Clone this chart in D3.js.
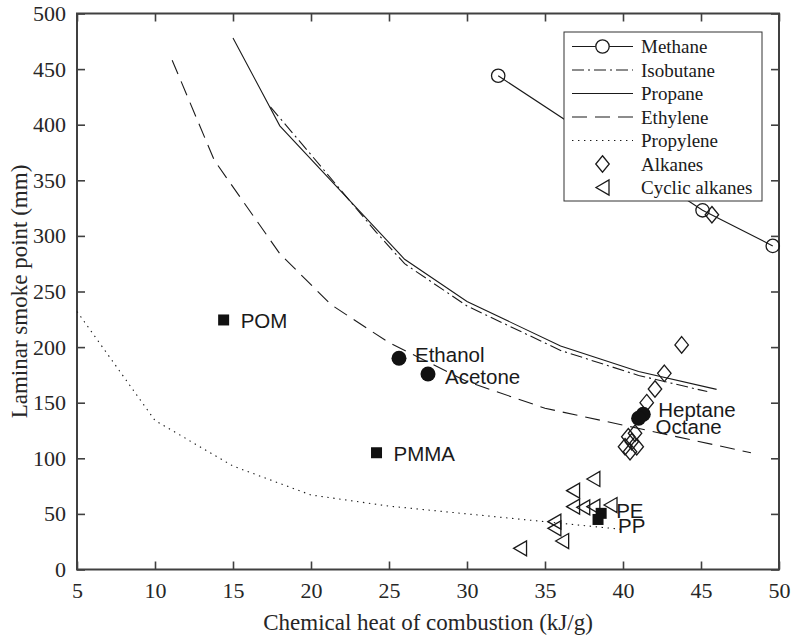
<!DOCTYPE html>
<html>
  <head>
    <title>Laminar smoke point</title>
    <script src="https://cdn.jsdelivr.net/npm/d3@7/dist/d3.min.js"></script>
    <style>
      body { margin: 0; background: #fff; }
    </style>
  </head>
  <body>
    <svg width="791" height="635" id="mainsvg"></svg>
    <script>
        // curves (chemical heat of combustion kJ/g vs laminar smoke point mm)
        const methaneX = [32.0, 45.1, 49.6];
        const methaneY = [444, 323, 291];
        const isobutaneX = [17.4, 20, 24.2, 26, 30, 36, 41, 45.4];
        const isobutaneY = [416, 373, 303, 275, 237, 197, 174.5, 160];
        const propaneX = [15, 18, 26, 30, 36, 41, 46];
        const propaneY = [478, 399, 279, 241, 201, 178, 162];
        const ethyleneX = [11.1, 13.8, 18, 21.3, 25, 30, 35, 48.2];
        const ethyleneY = [458, 368, 284, 238, 204, 169, 145, 105];
        const propyleneX = [5, 10, 15, 20, 25, 30, 35, 40];
        const propyleneY = [232, 134, 93, 67, 57, 50, 43, 36];

        // open markers
        const alkanesX = [45.7, 43.76, 42.65, 42.05, 41.52, 40.77, 40.34, 40.56, 40.13, 40.88, 40.45];
        const alkanesY = [319, 202, 176.4, 162.3, 150, 122.5, 119.4, 114.9, 110.4, 110.4, 105.9];
        const cyclicX = [38.1, 36.8, 36.8, 37.45, 38.1, 39.2, 35.6, 35.6, 36.1, 33.4];
        const cyclicY = [81.4, 70.9, 56.5, 55.9, 56.5, 58, 43, 37, 25.6, 19];

        // labelled fuels
        const circleNames = ['Ethanol', 'Acetone', 'Heptane', 'Octane'];
        const circleX = [25.64, 27.5, 41.3, 41.0];
        const circleY = [190, 175.8, 139.6, 136];
        const squareNames = ['POM', 'PMMA', 'PE', 'PP'];
        const squareX = [14.4, 24.2, 38.6, 38.4];
        const squareY = [224.4, 105, 50.5, 45];

        const xTicks = [5, 10, 15, 20, 25, 30, 35, 40, 45, 50];
        const yTicks = [0, 50, 100, 150, 200, 250, 300, 350, 400, 450, 500];
        const legendNames = ['Methane', 'Isobutane', 'Propane', 'Ethylene', 'Propylene', 'Alkanes', 'Cyclic alkanes'];

        // label offsets in pixels from the marker
        const labelOffset = {
          Ethanol: [16, -4], Acetone: [17, 2], Heptane: [15, -5], Octane: [17, 8],
          POM: [17, 1], PMMA: [17, 1], PE: [15, -3], PP: [20, 6]
        };

        const svg = d3.select('#mainsvg');
        const margin = {top: 13.5, left: 77, right: 12, bottom: 65.5};
        const innerWidth = 791 - margin.left - margin.right;
        const innerHeight = 635 - margin.top - margin.bottom;
        const g = svg.append('g').attr('transform', `translate(${margin.left}, ${margin.top})`);

        const x = d3.scaleLinear().domain([5, 50]).range([0, innerWidth]);
        const y = d3.scaleLinear().domain([0, 500]).range([innerHeight, 0]);

        const axisColor = '#404040';
        const ink = '#1a1a1a';
        const serif = '"Liberation Serif", "Times New Roman", serif';
        const sans = '"Liberation Sans", Arial, sans-serif';

        const styleAxis = (sel, labels) => {
          sel.select('.domain').remove();
          sel.selectAll('line').attr('stroke', axisColor).attr('stroke-width', 1.6);
          sel.selectAll('text').attr('font-family', serif).attr('font-size', 22).attr('fill', '#262626');
          if (!labels) sel.selectAll('text').remove();
        };

        g.append('g').attr('transform', `translate(0, ${innerHeight})`)
          .call(d3.axisBottom(x).tickValues(xTicks).tickSize(-8).tickPadding(13))
          .call(s => styleAxis(s, true));
        g.append('g')
          .call(d3.axisTop(x).tickValues(xTicks).tickSize(-8))
          .call(s => styleAxis(s, false));
        g.append('g')
          .call(d3.axisLeft(y).tickValues(yTicks).tickSize(-8).tickPadding(11))
          .call(s => styleAxis(s, true));
        g.append('g').attr('transform', `translate(${innerWidth}, 0)`)
          .call(d3.axisRight(y).tickValues(yTicks).tickSize(-8))
          .call(s => styleAxis(s, false));

        g.append('rect').attr('width', innerWidth).attr('height', innerHeight)
          .attr('fill', 'none').attr('stroke', axisColor).attr('stroke-width', 2);

        // axis titles
        svg.append('text').attr('x', margin.left + innerWidth / 2).attr('y', 622)
          .attr('text-anchor', 'middle').attr('dominant-baseline', 'central')
          .attr('font-family', serif).attr('font-size', 23).attr('fill', '#262626')
          .text('Chemical heat of combustion (kJ/g)');
        svg.append('text')
          .attr('transform', `translate(19, ${margin.top + innerHeight / 2}) rotate(-90)`)
          .attr('text-anchor', 'middle').attr('dominant-baseline', 'central')
          .attr('font-family', serif).attr('font-size', 23).attr('fill', '#262626')
          .text('Laminar smoke point (mm)');

        const zip = (xs, ys) => xs.map((v, i) => [v, ys[i]]);
        const line = d3.line().x(d => x(d[0])).y(d => y(d[1]));

        const series = [
          {name: 'Methane', pts: zip(methaneX, methaneY), dash: null},
          {name: 'Isobutane', pts: zip(isobutaneX, isobutaneY), dash: '12,4,2,4'},
          {name: 'Propane', pts: zip(propaneX, propaneY), dash: null},
          {name: 'Ethylene', pts: zip(ethyleneX, ethyleneY), dash: '15,8'},
          {name: 'Propylene', pts: zip(propyleneX, propyleneY), dash: '1.4,4.6'}
        ];

        g.selectAll('path.curve').data(series).join('path')
          .attr('class', 'curve')
          .attr('d', d => line(d.pts))
          .attr('fill', 'none').attr('stroke', ink).attr('stroke-width', 1.1)
          .attr('stroke-dasharray', d => d.dash);

        // marker shapes
        const diamond = (w, h) => `M0,${-h / 2}L${w / 2},0L0,${h / 2}L${-w / 2},0Z`;
        const triLeft = (w, h) => `M${-w / 2},0L${w / 2},${-h / 2}L${w / 2},${h / 2}Z`;

        g.selectAll('circle.methane').data(zip(methaneX, methaneY)).join('circle')
          .attr('class', 'methane')
          .attr('cx', d => x(d[0])).attr('cy', d => y(d[1])).attr('r', 6.7)
          .attr('fill', 'none').attr('stroke', ink).attr('stroke-width', 1.3);

        g.selectAll('path.alkane').data(zip(alkanesX, alkanesY)).join('path')
          .attr('class', 'alkane')
          .attr('transform', d => `translate(${x(d[0])}, ${y(d[1])})`)
          .attr('d', diamond(13.5, 16.5))
          .attr('fill', 'none').attr('stroke', ink).attr('stroke-width', 1.3);

        g.selectAll('path.cyclic').data(zip(cyclicX, cyclicY)).join('path')
          .attr('class', 'cyclic')
          .attr('transform', d => `translate(${x(d[0])}, ${y(d[1])})`)
          .attr('d', triLeft(13, 15))
          .attr('fill', 'none').attr('stroke', ink).attr('stroke-width', 1.3);

        const circles = circleNames.map((n, i) => ({name: n, x: circleX[i], y: circleY[i]}));
        const squares = squareNames.map((n, i) => ({name: n, x: squareX[i], y: squareY[i]}));

        g.selectAll('circle.fuel').data(circles).join('circle')
          .attr('class', 'fuel')
          .attr('cx', d => x(d.x)).attr('cy', d => y(d.y)).attr('r', 7.5)
          .attr('fill', '#111');

        g.selectAll('rect.fuel').data(squares).join('rect')
          .attr('class', 'fuel')
          .attr('x', d => x(d.x) - 5.5).attr('y', d => y(d.y) - 5.5)
          .attr('width', 11).attr('height', 11)
          .attr('fill', '#111');

        g.selectAll('text.fuel').data(circles.concat(squares)).join('text')
          .attr('class', 'fuel')
          .attr('x', d => x(d.x) + labelOffset[d.name][0])
          .attr('y', d => y(d.y) + labelOffset[d.name][1])
          .attr('dominant-baseline', 'central')
          .attr('font-family', sans).attr('font-size', 20.5).attr('fill', '#1a1a1a')
          .text(d => d.name);

        // legend
        const lg = svg.append('g').attr('transform', 'translate(564, 32)');
        lg.append('rect').attr('width', 198).attr('height', 169)
          .attr('fill', '#fff').attr('stroke', '#333').attr('stroke-width', 1);
        const rowY = i => 14.5 + i * 23.5;
        const items = lg.selectAll('g.item').data(legendNames).join('g')
          .attr('class', 'item')
          .attr('transform', (d, i) => `translate(0, ${rowY(i)})`);
        items.each(function(d, i) {
          const it = d3.select(this);
          if (i < series.length) {
            it.append('line').attr('x1', 8).attr('x2', 69).attr('y1', 0).attr('y2', 0)
              .attr('stroke', ink).attr('stroke-width', 1.1)
              .attr('stroke-dasharray', series[i].dash);
          }
          if (d === 'Methane') {
            it.append('circle').attr('cx', 38.5).attr('r', 6.7)
              .attr('fill', '#fff').attr('stroke', ink).attr('stroke-width', 1.3);
          } else if (d === 'Alkanes') {
            it.append('path').attr('transform', 'translate(38.5, 0)').attr('d', diamond(13.5, 16.5))
              .attr('fill', 'none').attr('stroke', ink).attr('stroke-width', 1.3);
          } else if (d === 'Cyclic alkanes') {
            it.append('path').attr('transform', 'translate(38.5, 0)').attr('d', triLeft(13, 15))
              .attr('fill', 'none').attr('stroke', ink).attr('stroke-width', 1.3);
          }
          it.append('text').attr('x', 77).attr('dominant-baseline', 'central')
            .attr('font-family', serif).attr('font-size', 19).attr('fill', '#1a1a1a')
            .text(d);
        });
    </script>
  </body>
</html>
